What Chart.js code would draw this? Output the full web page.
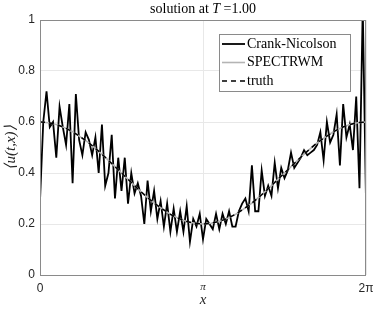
<!DOCTYPE html>
<html>
<head>
<meta charset="utf-8">
<script src="https://cdn.jsdelivr.net/npm/chart.js@4.4.1/dist/chart.umd.min.js"></script>
<style>
  html, body { margin: 0; padding: 0; background: #fff; }
  #wrap { width: 374px; height: 309px; }
</style>
</head>
<body>
<div id="wrap"><canvas id="solChart" width="374" height="309"></canvas></div>
<script>
// values
const xTickLabels = ["0", "π", "2π"];
const yTicks = [0, 0.2, 0.4, 0.6, 0.8, 1];
const seriesNames = ["Crank-Nicolson", "SPECTRWM", "truth"];

// Crank-Nicolson, 101 grid points on [0, 2π]
const crankNicolson = [
  0.29, 0.60, 0.72, 0.58, 0.60, 0.46, 0.66, 0.58, 0.51, 0.67,
  0.36, 0.71, 0.53, 0.47, 0.56, 0.53, 0.47, 0.54, 0.40, 0.59,
  0.35, 0.40, 0.55, 0.30, 0.46, 0.33, 0.46, 0.28, 0.40, 0.32,
  0.36, 0.31, 0.20, 0.37, 0.25, 0.33, 0.22, 0.29, 0.19, 0.28,
  0.17, 0.26, 0.17, 0.25, 0.17, 0.27, 0.13, 0.22, 0.19, 0.24,
  0.14, 0.22, 0.20, 0.18, 0.24, 0.18, 0.24, 0.20, 0.25, 0.19,
  0.19, 0.25, 0.28, 0.30, 0.25, 0.43, 0.25, 0.25, 0.41, 0.31,
  0.35, 0.31, 0.44, 0.34, 0.42, 0.38, 0.41, 0.48, 0.42, 0.44,
  0.46, 0.49, 0.47, 0.48, 0.49, 0.51, 0.56, 0.45, 0.60, 0.52,
  0.55, 0.63, 0.43, 0.67, 0.54, 0.59, 0.49, 0.70, 0.34, 1.05,
  0.29
];

// SPECTRWM and truth, 41 grid points on [0, 2π]
const spectrwm = [
  0.600, 0.597, 0.590, 0.578, 0.562, 0.541, 0.518, 0.491, 0.462, 0.431,
  0.400, 0.369, 0.338, 0.309, 0.282, 0.259, 0.238, 0.222, 0.210, 0.203,
  0.200, 0.203, 0.210, 0.222, 0.238, 0.259, 0.282, 0.309, 0.338, 0.369,
  0.400, 0.431, 0.462, 0.491, 0.518, 0.541, 0.562, 0.578, 0.590, 0.597,
  0.600
];
const truth = [
  0.600, 0.598, 0.590, 0.578, 0.562, 0.541, 0.518, 0.491, 0.462, 0.431,
  0.400, 0.369, 0.338, 0.309, 0.282, 0.259, 0.238, 0.222, 0.210, 0.203,
  0.200, 0.203, 0.210, 0.222, 0.238, 0.259, 0.282, 0.309, 0.338, 0.369,
  0.400, 0.431, 0.462, 0.491, 0.518, 0.541, 0.562, 0.578, 0.590, 0.598,
  0.600
];

const TWO_PI = 2 * Math.PI;
function onGrid(vals) {
  const n = vals.length - 1;
  return vals.map((v, i) => ({ x: i * TWO_PI / n, y: v }));
}

const styles = [
  { color: "#000000", width: 1.8, dash: [] },
  { color: "#b4b4b4", width: 1.6, dash: [] },
  { color: "#000000", width: 1.5, dash: [5, 4] }
];

// title, box and legend drawn on top of the chart
const decorations = {
  id: "decorations",
  afterDraw(chart) {
    const ctx = chart.ctx;
    const a = chart.chartArea;
    ctx.save();
    // axes box
    ctx.strokeStyle = "#8a8a8a";
    ctx.lineWidth = 1;
    ctx.strokeRect(a.left + 0.5, a.top + 0.5, a.right - a.left - 1, a.bottom - a.top);

    // title with italic T
    ctx.fillStyle = "#000";
    ctx.textBaseline = "middle";
    const p1 = "solution at ", p2 = "T", p3 = " =1.00";
    ctx.font = "14px 'Liberation Serif'";
    const w1 = ctx.measureText(p1).width, w3 = ctx.measureText(p3).width;
    ctx.font = "italic 14px 'Liberation Serif'";
    const w2 = ctx.measureText(p2).width;
    let tx = (a.left + a.right) / 2 - (w1 + w2 + w3) / 2;
    const ty = 9;
    ctx.font = "14px 'Liberation Serif'";
    ctx.fillText(p1, tx, ty);
    ctx.font = "italic 14px 'Liberation Serif'";
    ctx.fillText(p2, tx + w1, ty);
    ctx.font = "14px 'Liberation Serif'";
    ctx.fillText(p3, tx + w1 + w2, ty);

    // legend
    const bx = 219, by = 34, bw = 131, bh = 57;
    ctx.fillStyle = "#fff";
    ctx.fillRect(bx, by, bw, bh);
    ctx.strokeStyle = "#8a8a8a";
    ctx.lineWidth = 1;
    ctx.strokeRect(bx + 0.5, by + 0.5, bw, bh);
    seriesNames.forEach((name, i) => {
      const y = by + 10 + i * 18.5;
      const s = styles[i];
      ctx.strokeStyle = s.color;
      ctx.lineWidth = s.width;
      ctx.setLineDash(s.dash);
      ctx.beginPath();
      ctx.moveTo(bx + 3, y);
      ctx.lineTo(bx + 26, y);
      ctx.stroke();
      ctx.setLineDash([]);
      ctx.fillStyle = "#000";
      ctx.font = "14px 'Liberation Serif'";
      ctx.textBaseline = "middle";
      ctx.fillText(name, bx + 28, y);
    });
    ctx.restore();
  }
};

const ctx = document.getElementById("solChart").getContext("2d");
new Chart(ctx, {
  type: "line",
  data: {
    datasets: [
      {
        label: seriesNames[0],
        data: onGrid(crankNicolson),
        borderColor: styles[0].color,
        borderWidth: styles[0].width,
        pointRadius: 0,
        tension: 0,
        order: 3
      },
      {
        label: seriesNames[1],
        data: onGrid(spectrwm),
        borderColor: styles[1].color,
        borderWidth: styles[1].width,
        pointRadius: 0,
        tension: 0,
        order: 2
      },
      {
        label: seriesNames[2],
        data: onGrid(truth),
        borderColor: styles[2].color,
        borderWidth: styles[2].width,
        borderDash: styles[2].dash,
        pointRadius: 0,
        tension: 0,
        order: 1
      }
    ]
  },
  options: {
    responsive: false,
    animation: false,
    clip: { left: 0, top: 0, right: 0, bottom: 0 },
    layout: { padding: { top: 20, right: 8, left: 0, bottom: 0 } },
    plugins: {
      legend: { display: false },
      title: { display: false },
      tooltip: { enabled: false }
    },
    scales: {
      x: {
        type: "linear",
        min: 0,
        max: TWO_PI,
        afterBuildTicks(scale) {
          scale.ticks = xTickLabels.map((l, i) => ({ value: i * Math.PI }));
        },
        afterFit(scale) {
          scale.height = 34;
          scale.paddingLeft = 0;
          scale.paddingRight = 0;
        },
        grid: { color: "#e8e8e8", drawTicks: false },
        border: { display: false },
        ticks: {
          padding: 6,
          color: "#262626",
          maxRotation: 0,
          font: c => (c.index === 1
            ? { family: "'Liberation Serif'", style: "italic", size: 11 }
            : { family: "'Liberation Sans'", size: 12 }),
          callback: (v, i) => xTickLabels[i]
        },
        title: {
          display: true,
          text: "x",
          color: "#262626",
          font: { family: "'Liberation Serif'", style: "italic", size: 15 },
          padding: { top: 0, bottom: 0 }
        }
      },
      y: {
        min: 0,
        max: 1,
        afterBuildTicks(scale) {
          scale.ticks = yTicks.map(v => ({ value: v }));
        },
        afterFit(scale) {
          scale.width = 40;
          scale.paddingTop = 0;
          scale.paddingBottom = 0;
        },
        grid: { color: "#e8e8e8", drawTicks: false },
        border: { display: false },
        ticks: {
          padding: 5,
          color: "#262626",
          font: { family: "'Liberation Sans'", size: 12 },
          callback: v => String(v)
        },
        title: {
          display: true,
          text: "⟨u(t,x)⟩",
          color: "#262626",
          font: { family: "'Liberation Serif'", style: "italic", size: 15 },
          padding: { top: 2, bottom: 0 }
        }
      }
    }
  },
  plugins: [decorations]
});
</script>
</body>
</html>
